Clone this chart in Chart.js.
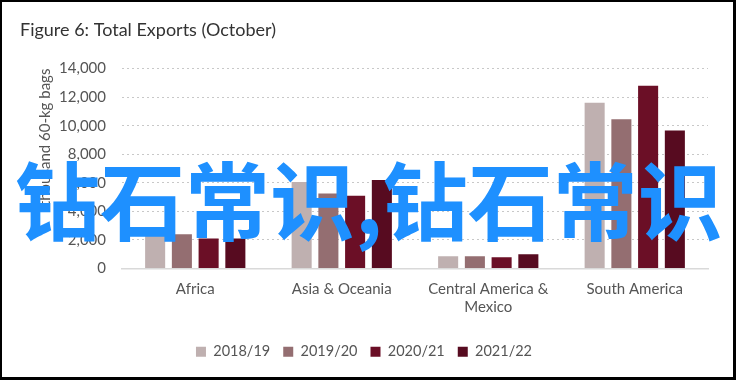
<!DOCTYPE html>
<html>
<head>
<meta charset="utf-8">
<script src="https://cdn.jsdelivr.net/npm/chart.js@4"></script>
<style>
  html, body { margin: 0; padding: 0; background: #fff; }
  #wrap { position: relative; width: 736px; height: 380px; }
  #frame { position: absolute; left: 0; top: 0; width: 736px; height: 380px; box-sizing: border-box;
           border-top: 2px solid #000; border-left: 2px solid #000; border-right: 3px solid #000; border-bottom: 3px solid #000; pointer-events: none; }
  #mark { position: absolute; left: 15px; top: 154px; font-family: "Noto Sans CJK SC"; font-weight: bold;
          font-size: 85px; line-height: 1; color: #1e90ff; white-space: nowrap; }
</style>
</head>
<body>
<div id="wrap">
  <canvas id="exportsChart" width="736" height="380"></canvas>
  <div id="mark">钻石常识,钻石常识</div>
  <div id="frame"></div>
</div>
<script>
// _+_+_+_+_+ DATA _+_+_+_+_+
const regions = ['Africa', 'Asia & Oceania', ['Central America &', 'Mexico'], 'South America'];
const seasons = ['2018/19', '2019/20', '2020/21', '2021/22'];
const exports1819 = [2300, 6050, 850, 11600];
const exports1920 = [2400, 5250, 850, 10450];
const exports2021 = [2100, 5100, 780, 12800];
const exports2122 = [2100, 6200, 1000, 9670];
const yTicks = [0, 2000, 4000, 6000, 8000, 10000, 12000, 14000];

const seriesColors = ['#bfb0b0', '#946e71', '#6b0f26', '#570b20'];
const fontName = 'Lato';

// _+_+_+_+_+ CHART _+_+_+_+_+
const ctx = document.getElementById('exportsChart');
const allSeries = [exports1819, exports1920, exports2021, exports2122];

new Chart(ctx, {
    type: 'bar',
    data: {
        labels: regions,
        datasets: allSeries.map((values, i) => ({
            label: seasons[i],
            data: values,
            backgroundColor: seriesColors[i],
            categoryPercentage: 0.73,
            barPercentage: 0.75
        }))
    },
    options: {
        responsive: false,
        animation: false,
        layout: { padding: { top: 19, left: 20, right: 28, bottom: 11 } },
        plugins: {
            title: {
                display: true,
                text: 'Figure 6: Total Exports (October)',
                align: 'start',
                color: '#333',
                font: { family: fontName, size: 18, weight: 'normal' },
                padding: { top: 0, bottom: 28 }
            },
            legend: {
                position: 'bottom',
                labels: {
                    color: '#555',
                    font: { family: fontName, size: 14.5 },
                    boxWidth: 10,
                    boxHeight: 10,
                    padding: 13
                }
            },
            tooltip: { enabled: false }
        },
        scales: {
            x: {
                grid: { display: false },
                border: { display: true, color: '#d9d9d9', width: 1.5 },
                ticks: { color: '#555', font: { family: fontName, size: 15 }, maxRotation: 0, padding: 4 },
                afterFit: scale => { scale.height += 11; }
            },
            y: {
                min: 0,
                max: 14000,
                afterBuildTicks: scale => { scale.ticks = yTicks.map(v => ({ value: v })); },
                afterFit: scale => { scale.width = 102; },
                grid: { color: '#c8c8c8', lineWidth: 1, borderDash: [2, 3], drawTicks: false },
                border: { display: false, dash: [2, 3] },
                ticks: {
                    color: '#555',
                    font: { family: fontName, size: 15 },
                    padding: 16,
                    callback: v => v.toLocaleString('en-US')
                },
                title: {
                    display: true,
                    text: 'thousand 60-kg bags',
                    align: 'end',
                    color: '#555',
                    font: { family: fontName, size: 15 },
                    padding: { top: 16, bottom: 0 }
                }
            }
        }
    }
});
</script>
</body>
</html>
